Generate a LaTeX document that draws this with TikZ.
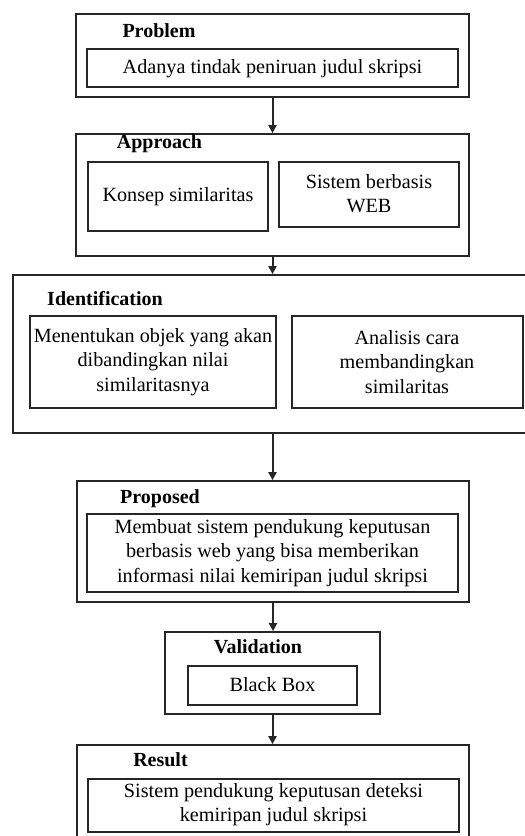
\documentclass[tikz,border=0pt]{standalone}
\usepackage{fontspec}
\setmainfont{Liberation Serif}
\usetikzlibrary{arrows.meta}
\begin{document}
\begin{tikzpicture}[x=1pt,y=-1pt,
  font=\fontsize{20.2}{24.5}\selectfont,
  outerbox/.style={draw=black!85,line width=1.7pt,inner sep=0pt,minimum width=#1},
  innerbox/.style={draw=black!85,line width=1.7pt,inner sep=0pt,minimum width=#1},
  lbl/.style={font=\fontsize{20}{24}\selectfont\bfseries,inner sep=0pt},
  txt/.style={align=center,inner sep=0pt},
  flow/.style={draw=black!85,line width=2pt,-{Triangle[length=8pt,width=8pt]}}]
\useasboundingbox (0,0) rectangle (525,836);
\clip (0,0) rectangle (525,836);
% Problem
\node[outerbox=393pt,minimum height=83pt] (pO) at (272.5,55.5) {};
\node[lbl] (pL) at (159,31) {Problem};
\node[innerbox=371pt,minimum height=38pt] (pI) at (272.5,68) {};
\node[txt] (pT) at (272.5,69) {Adanya tindak peniruan judul skripsi};
% Approach
\node[outerbox=393pt,minimum height=122pt] (aO) at (272.5,195) {};
\node[lbl] (aL) at (159.5,144) {Approach};
\node[innerbox=180pt,minimum height=69pt] (aI1) at (178,196.5) {};
\node[txt] (aT1) at (178,197) {Konsep similaritas};
\node[innerbox=180pt,minimum height=65pt] (aI2) at (369,194.5) {};
\node[txt] (aT2) at (369,193.5) {Sistem berbasis\\WEB};
% Identification
\node[outerbox=517pt,minimum height=158pt] (iO) at (271.5,354) {};
\node[lbl] (iL) at (105,299) {Identification};
\node[innerbox=246pt,minimum height=92pt] (iI1) at (153,362) {};
\node[txt] (iT1) at (153,362) {Menentukan objek yang akan\\dibandingkan nilai\\similaritasnya};
\node[innerbox=231pt,minimum height=92pt] (iI2) at (407.5,362) {};
\node[txt] (iT2) at (407,362) {Analisis cara\\membandingkan\\similaritas};
% Proposed
\node[outerbox=392pt,minimum height=121pt] (prO) at (273,541.5) {};
\node[lbl] (prL) at (160,499) {Proposed};
\node[innerbox=371pt,minimum height=78pt] (prI) at (272.5,553) {};
\node[txt] (prT) at (272.5,553) {Membuat sistem pendukung keputusan\\berbasis web yang bisa memberikan\\informasi nilai kemiripan judul skripsi};
% Validation
\node[outerbox=215pt,minimum height=82pt] (vO) at (272.5,673) {};
\node[lbl] (vL) at (258,647) {Validation};
\node[innerbox=169pt,minimum height=39pt] (vI) at (272.5,685.5) {};
\node[txt] (vT) at (272.5,685) {Black Box};
% Result
\node[outerbox=392pt,minimum height=110pt] (rO) at (273,800) {};
\node[lbl] (rL) at (160.5,760) {Result};
\node[innerbox=371pt,minimum height=53pt] (rI) at (273.5,805.5) {};
\node[txt] (rT) at (273.5,804.5) {Sistem pendukung keputusan deteksi\\kemiripan judul skripsi};
% connectors
\draw[flow] (pO.south) -- (pO.south |- aO.north);
\draw[flow] (aO.south) -- (aO.south |- iO.north);
\draw[flow] (aO.south |- iO.south) -- (aO.south |- prO.north);
\draw[flow] (prO.south) -- (prO.south |- vO.north);
\draw[flow] (vO.south) -- (vO.south |- rO.north);
\end{tikzpicture}
\end{document}
